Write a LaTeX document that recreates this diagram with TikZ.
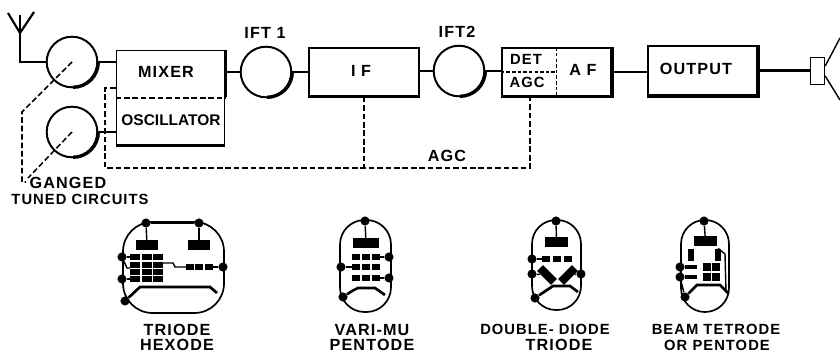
\documentclass[tikz,border=0pt]{standalone}
\usepackage{fontspec}
\setmainfont{Liberation Sans}
\newfontfamily\wideface[LetterSpace=7]{Liberation Sans}
\usepackage{tikz}
\tikzset{
  block/.style={draw, line width=1.2pt, minimum width=#1, inner sep=0pt},
  tuned/.style={draw, circle, line width=1.4pt, minimum size=36pt, inner sep=0pt},
  label/.style={font=\fontsize{10.5}{10.5}\selectfont\wideface\bfseries, inner sep=0pt},
  biglabel/.style={font=\fontsize{11.5}{11.5}\selectfont\wideface\bfseries, inner sep=0pt},
  wire/.style={line width=1.5pt},
  gang/.style={line width=1.1pt, dash pattern=on 4pt off 2pt},
  thindash/.style={line width=.9pt, dash pattern=on 2.5pt off 1.5pt},
  shade/.style={line width=2.4pt},
  envelope/.style={line width=1.2pt, rounded corners=#1},
  pin/.style={circle, fill, inner sep=0pt, minimum size=6.5pt},
  slug/.style={fill, inner sep=0pt},
  lead/.style={line width=1pt},
  emitter/.style={line width=1.9pt}
}
\begin{document}
\begin{tikzpicture}[x=0.25mm,y=-0.25mm]
  \useasboundingbox (0,0) rectangle (840,352);
  % aerial
  \coordinate (aerialfoot) at (20,33);
  \coordinate (aerialbend) at (20,62);
  \draw[wire] (8,13) -- (aerialfoot) -- (34,12);
  \draw[wire] (20,15) -- (aerialfoot);
  % front end
  \node[tuned] (tunedA) at (72,62) {};
  \node[tuned] (tunedB) at (72,132) {};
  \node[block=77pt, minimum height=67pt] (mixer) at (170.5,97.5) {};
  \node[biglabel] (mixertext) at (166,72) {MIXER};
  \node[font=\fontsize{11}{11}\selectfont\bfseries, inner sep=0pt] (osctext) at (171,120) {OSCILLATOR};
  \draw[gang] (mixer.west |- 0,98) -- (mixer.east |- 0,98);
  \draw[wire] (aerialfoot) -- (aerialbend) -- (tunedA);
  \draw[wire] (tunedA) -- (tunedA -| mixer.west);
  \draw[wire] (tunedB) -- (tunedB -| mixer.west);
  % IF strip
  \node[tuned] (iftA) at (266,72) {};
  \node[biglabel] (iftAtext) at (265,33) {IFT 1};
  \node[block=78pt, minimum height=34pt] (ifamp) at (364,72) {};
  \node[biglabel] (iftext) at (361,71) {I F};
  \node[tuned] (iftB) at (459,71) {};
  \node[biglabel] (iftBtext) at (457,32) {IFT2};
  \node[block=78pt, minimum height=34pt] (detaf) at (556.5,72) {};
  \draw[thindash] (detaf.north) -- (detaf.south);
  \draw[thindash] (detaf.west) -- (detaf.center);
  \node[label] (dettext) at (526,59) {DET};
  \node[label] (agctext) at (527,82) {AGC};
  \node[biglabel] (aftext) at (583,70) {A F};
  \node[block=78pt, minimum height=35pt] (output) at (702.5,70.5) {};
  \node[biglabel] (outputtext) at (696,69) {OUTPUT};
  \node[draw, line width=1pt, minimum width=10pt, minimum height=19pt, inner sep=0pt] (speaker) at (817.5,71) {};
  \draw[line width=1pt] (speaker.east |- 0,66) -- (840,38);
  \draw[line width=1pt] (speaker.east |- 0,76) -- (840,100);
  \draw[wire] (mixer.east |- iftA) -- (iftA);
  \draw[wire] (iftA) -- (ifamp.west |- iftA);
  \draw[wire] (ifamp.east |- iftB) -- (iftB);
  \draw[wire] (iftB) -- (iftB -| detaf.west);
  \draw[wire] (detaf.east) -- (output.west |- detaf.east);
  \draw[wire] (output.east) -- (output.east -| speaker.west);
  % heavy print on the lower right edges
  \draw[shade] (mixer.north east) -- (mixer.east);
  \draw[shade] (mixer.south west) -- (mixer.south east);
  \draw[shade] (ifamp.south west) -- (ifamp.south east);
  \draw[shade] (detaf.north east) -- (detaf.south east) -- (detaf.south west);
  \draw[shade] (output.north east) -- (output.south east) -- (output.south west);
  \foreach \tunedname in {tunedA,tunedB,iftA,iftB}
    \draw[shade] (\tunedname.east) arc[start angle=0, end angle=-90, radius=18pt];
  % AGC and ganging
  \coordinate (agcleft) at (105,168);
  \coordinate (agcright) at (530,168);
  \coordinate (agctop) at (530,96);
  \draw[gang] (mixer.west |- 0,88) -| (agcleft) -- (agcright) -- (agctop);
  \draw[gang] (ifamp.south) -- (ifamp.south |- agcleft);
  \node[biglabel] (agclabel) at (447,156) {AGC};
  \draw[gang] (tunedA.center) -- (22,112) -- (22,182) -- (26,182);
  \draw[gang] (tunedB.center) -- (28,178);
  \node[biglabel] (gangedtext) at (68,183) {GANGED};
  \node[label] (tunedtext) at (80,199) {TUNED CIRCUITS};
  % triode hexode
  \draw[envelope=21pt] (123,222) rectangle (224,313);
  \node[pin] (hexA) at (146,223) {};
  \node[pin] (hexB) at (199,223) {};
  \node[pin] (hexC) at (122,257) {};
  \node[pin] (hexD) at (122,279) {};
  \node[pin] (hexE) at (125,301) {};
  \node[pin] (hexF) at (223,267) {};
  \node[slug, minimum width=16pt, minimum height=7pt] (hexplateA) at (147,245) {};
  \node[slug, minimum width=15pt, minimum height=7pt] (hexplateB) at (199,245) {};
  \draw[lead] (hexA) -- (hexplateA);
  \draw[lead] (hexB) -- (hexplateB);
  \draw[lead] (hexA) -- (hexB);
  \foreach \colx in {135,147,158}
    \foreach \rowy in {257,265,272,279}
      \node[slug, minimum width=6.5pt, minimum height=4pt] at (\colx,\rowy) {};
  \foreach \colx in {190,199,209}
    \node[slug, minimum width=5.5pt, minimum height=4.5pt] at (\colx,267) {};
  \draw[lead] (hexC) -- (130,257);
  \draw[lead] (hexD) -- (130,279);
  \draw[lead] (hexC) -- (127,268) -- (130,268);
  \draw[lead] (162,263) -- (173,263) -- (175,267) -- (186,267);
  \draw[lead] (hexF) -- (213,267);
  \draw[emitter] (hexE) -- (140,287) -- (210,287) -- (217,293);
  % vari-mu pentode
  \draw[envelope=17.5pt] (340,220) rectangle (391,312);
  \node[pin] (varA) at (365,221) {};
  \node[pin] (varB) at (389,257) {};
  \node[pin] (varC) at (341,267) {};
  \node[pin] (varD) at (389,278) {};
  \node[pin] (varE) at (343,297) {};
  \node[slug, minimum width=19pt, minimum height=7pt] (varplate) at (366,243) {};
  \draw[lead] (varA) -- (varplate);
  \foreach \colx in {356,366,376}
    \foreach \rowy in {257,267,278}
      \node[slug, minimum width=6pt, minimum height=4pt] at (\colx,\rowy) {};
  \draw[lead] (380,257) -- (varB);
  \draw[lead] (varC) -- (352,267);
  \draw[lead] (380,278) -- (varD);
  \draw[emitter] (varE) -- (352,291) -- (358,288) -- (375,288) -- (385,295);
  % double-diode triode
  \draw[envelope=17pt] (532,220) rectangle (581,310);
  \node[pin] (dblA) at (556,221) {};
  \node[pin] (dblB) at (532,259) {};
  \node[pin] (dblC) at (532,274) {};
  \node[pin] (dblD) at (581,274) {};
  \node[pin] (dblE) at (535,298) {};
  \node[slug, minimum width=16pt, minimum height=7pt] (dblplate) at (556.5,242) {};
  \draw[lead] (dblA) -- (dblplate);
  \foreach \colx in {546,557,568}
    \node[slug, minimum width=6pt, minimum height=4pt] at (\colx,259) {};
  \draw[lead] (dblB) -- (542,259);
  \node[slug, minimum width=14pt, minimum height=6pt, rotate=-45] (dbldiodeA) at (547,275) {};
  \node[slug, minimum width=14pt, minimum height=6pt, rotate=45] (dbldiodeB) at (568,275) {};
  \draw[lead] (dblC) -- (dbldiodeA);
  \draw[lead] (dblD) -- (dbldiodeB);
  \draw[emitter] (dblE) -- (547,290) -- (553,286) -- (570,286) -- (578,292);
  % beam tetrode
  \draw[envelope=17pt] (681,220) rectangle (729,312);
  \node[pin] (beamA) at (704,221) {};
  \node[pin] (beamB) at (680,267) {};
  \node[pin] (beamC) at (680,277) {};
  \node[pin] (beamD) at (685,297) {};
  \node[slug, minimum width=16pt, minimum height=7pt] (beamplate) at (705.5,241) {};
  \draw[lead] (beamA) -- (beamplate);
  \node[slug, minimum width=4pt, minimum height=9pt] (beamscreenA) at (691,255) {};
  \node[slug, minimum width=4pt, minimum height=9pt] (beamscreenB) at (718,255) {};
  \foreach \colx in {707,716}
    \foreach \rowy in {267,277}
      \node[slug, minimum width=5.5pt, minimum height=5pt] at (\colx,\rowy) {};
  \draw[line width=2.2pt] (beamB) -- (697,267);
  \draw[line width=2.2pt] (beamC) -- (697,277);
  \draw[lead] (beamscreenB.north) -- (725,254) -- (726,292);
  \draw[lead] (beamC) -- (beamD);
  \draw[emitter] (beamD) -- (697,285) -- (720,285) -- (728,293);
  % valve names
  \node[biglabel] (hexname) at (177,330) {TRIODE};
  \node[biglabel] (hexnameB) at (177,345) {HEXODE};
  \node[biglabel] (varname) at (372,330) {VARI-MU};
  \node[biglabel] (varnameB) at (372,345) {PENTODE};
  \node[label] (dblname) at (545,329) {DOUBLE- DIODE};
  \node[biglabel] (dblnameB) at (559,345) {TRIODE};
  \node[label] (beamname) at (716,329) {BEAM TETRODE};
  \node[label] (beamnameB) at (717,345) {OR PENTODE};
\end{tikzpicture}
\end{document}
